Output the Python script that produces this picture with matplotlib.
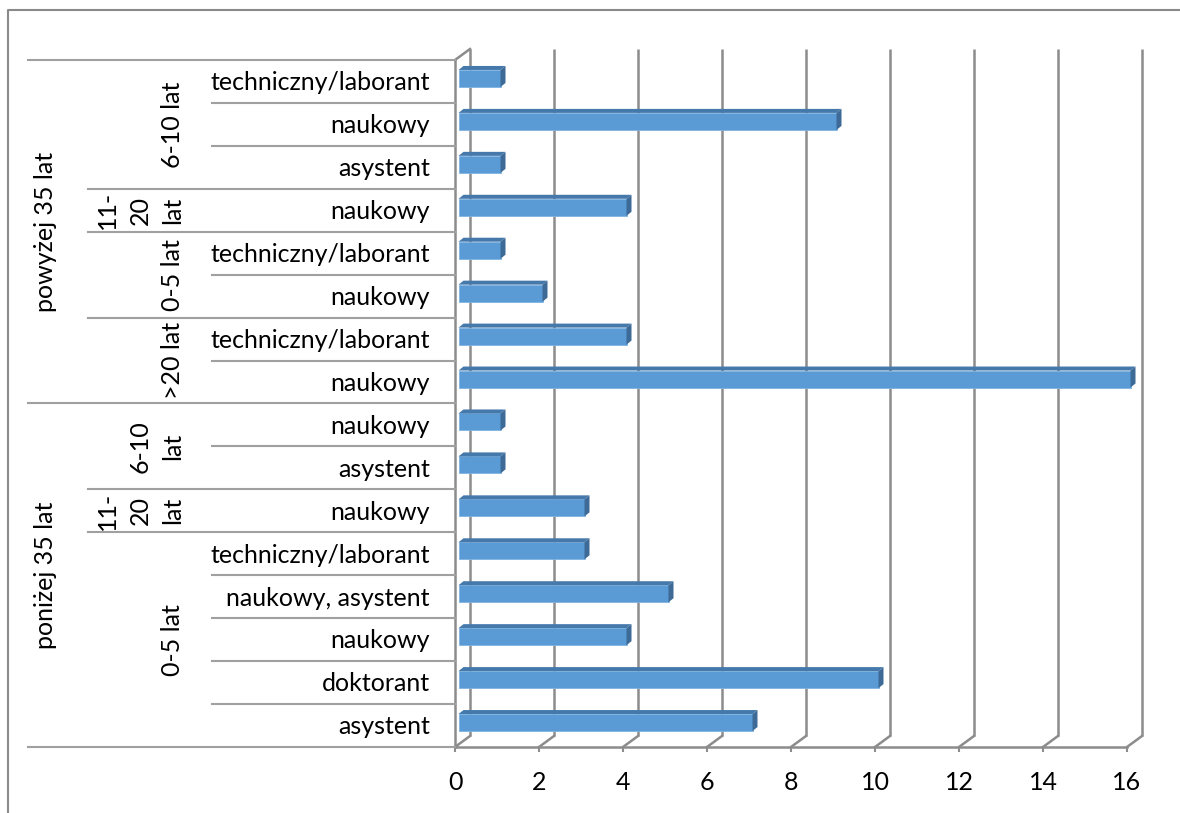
import matplotlib
matplotlib.use("Agg")
import matplotlib.pyplot as plt
from matplotlib.patches import Polygon
from matplotlib.lines import Line2D
import matplotlib.transforms as mtransforms

plt.rcParams['font.family'] = ['Lato', 'DejaVu Sans']

# ---------------- data (top row first) ----------------
roles = ['techniczny/laborant', 'naukowy', 'asystent', 'naukowy',
         'techniczny/laborant', 'naukowy', 'techniczny/laborant', 'naukowy',
         'naukowy', 'asystent', 'naukowy', 'techniczny/laborant',
         'naukowy, asystent', 'naukowy', 'doktorant', 'asystent']
values = [1, 9, 1, 4, 1, 2, 4, 16, 1, 1, 3, 3, 5, 4, 10, 7]
seniority_labels = ['6-10 lat', '11-\n20\nlat', '0-5 lat', '>20 lat',
                    '6-10\nlat', '11-\n20\nlat', '0-5 lat']
seniority_counts = [3, 1, 2, 2, 2, 1, 5]
age_labels = ['powyżej 35 lat', 'poniżej 35 lat']
age_counts = [8, 8]
x_ticks = [0, 2, 4, 6, 8, 10, 12, 14, 16]

# ---------------- figure ----------------
W, H = 1180, 813
fig = plt.figure(figsize=(W / 100, H / 100), dpi=100)

ax_left, ax_right, ax_top, ax_bottom = 455, 1127, 60, 747
ax = fig.add_axes([ax_left / W, 1 - ax_bottom / H,
                   (ax_right - ax_left) / W, (ax_bottom - ax_top) / H])
n = len(values)
ax.set_xlim(0, 16)
ax.set_ylim(-0.5, n - 0.5)
ypos = [n - 1 - i for i in range(n)]

px_x = (ax_right - ax_left) / 16.0          # pixels per x unit
px_y = (ax_bottom - ax_top) / float(n)      # pixels per row

grid_col = '#8c8c8c'
sep_col = '#a0a0a0'
FS = 18

# depth of the 3D box (pixels -> data units)
DX, DY = 15 / px_x, 11 / px_y

# back-wall gridlines + floor diagonals
for v in x_ticks:
    ax.plot([v + DX, v + DX], [-0.5 + DY, n - 0.5 + DY], color=grid_col,
            lw=1.8, clip_on=False, zorder=1, solid_capstyle='butt')
    ax.plot([v, v + DX], [-0.5, -0.5 + DY], color=grid_col, lw=1.8,
            clip_on=False, zorder=1)
# left wall top diagonal
ax.plot([0, DX], [n - 0.5, n - 0.5 + DY], color=grid_col, lw=1.8,
        clip_on=False, zorder=1)

# bars with 3D faces
FX, FY = 3.5 / px_x, 3 / px_y     # front face offset
BX, BY = 8.5 / px_x, 7 / px_y     # back face offset
h = 17 / px_y
front_col, top_col, side_col = '#5b9bd5', '#4679ab', '#3d6a96'
ax.barh([y + FY for y in ypos], values, left=FX, height=h, color=front_col,
        edgecolor='#7fb3e3', linewidth=0.6, zorder=3, clip_on=False)
for y, v in zip(ypos, values):
    top = [(FX, y + FY + h / 2), (FX + v, y + FY + h / 2),
           (BX + v, y + BY + h / 2), (BX, y + BY + h / 2)]
    side = [(FX + v, y + FY - h / 2), (FX + v, y + FY + h / 2),
            (BX + v, y + BY + h / 2), (BX + v, y + BY - h / 2)]
    ax.add_patch(Polygon(top, closed=True, facecolor=top_col,
                         edgecolor='none', zorder=3, clip_on=False))
    ax.add_patch(Polygon(side, closed=True, facecolor=side_col,
                         edgecolor='none', zorder=3, clip_on=False))

# axes styling
for s in ['top', 'right']:
    ax.spines[s].set_visible(False)
for s in ['left', 'bottom']:
    ax.spines[s].set_color(grid_col)
    ax.spines[s].set_linewidth(1.8)
ax.set_xticks(x_ticks)
ax.set_xticklabels([str(t) for t in x_ticks], fontsize=FS)
ax.tick_params(axis='x', length=3.6, width=1.5, color=grid_col, pad=14)
ax.set_yticks([])
ax.patch.set_alpha(0)

# ---------------- multi-level category axis ----------------
trans = mtransforms.blended_transform_factory(fig.transFigure, ax.transData)
fx = lambda p: p / W

# role labels
for y, r in zip(ypos, roles):
    ax.text(fx(430), y - 0.03, r, transform=trans, ha='right', va='center',
            fontsize=FS, color='black')

# separator lines
age_bounds = set()
acc = 0
for c in age_counts:
    acc += c
    age_bounds.add(acc)
sen_bounds = set()
acc = 0
for c in seniority_counts:
    acc += c
    sen_bounds.add(acc)
for k in range(0, n + 1):
    yb = n - 0.5 - k
    if k == 0 or k == n or k in age_bounds:
        xs = 28
    elif k in sen_bounds:
        xs = 88
    else:
        xs = 212
    fig.add_artist(Line2D([fx(xs), fx(ax_left)], [yb, yb], transform=trans,
                          color=sep_col, lw=1.5))

# seniority labels
start = 0
for lab, c in zip(seniority_labels, seniority_counts):
    yc = n - 1 - (start + (c - 1) / 2.0)
    nl = lab.count('\n')
    xc = 172 - nl * 32 / 2.0
    ax.text(fx(xc), yc, lab, transform=trans, rotation=90, ha='center',
            va='center', multialignment='center', fontsize=FS,
            linespacing=1.5, color='black')
    start += c

# age labels
start = 0
for lab, c in zip(age_labels, age_counts):
    yc = n - 1 - (start + (c - 1) / 2.0)
    ax.text(fx(46), yc, lab, transform=trans, rotation=90, ha='center',
            va='center', fontsize=FS, color='black')
    start += c

# outer chart frame
fig.add_artist(Line2D([fx(8), fx(8), fx(W + 5)],
                      [0, 1 - 10 / H, 1 - 10 / H],
                      transform=fig.transFigure, color='#8a8a8a', lw=1.5))

fig.savefig('out.png', dpi=100)
